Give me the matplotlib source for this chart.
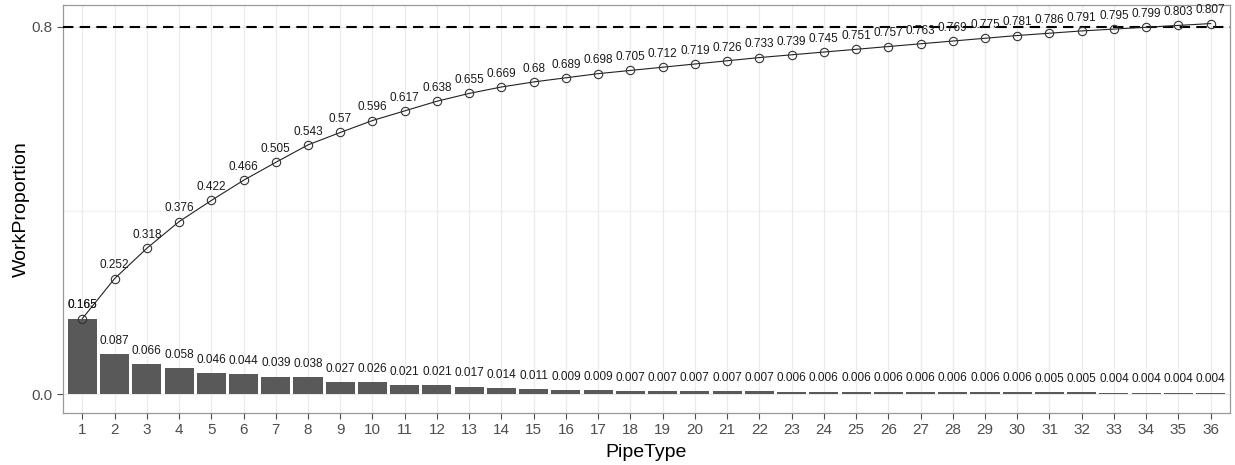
import numpy as np
import matplotlib
matplotlib.use("Agg")
import matplotlib.pyplot as plt

plt.rcParams['font.family'] = ['Liberation Sans', 'DejaVu Sans']

pipe_type = list(range(1, 37))
work_prop = [0.165, 0.087, 0.066, 0.058, 0.046, 0.044, 0.039, 0.038, 0.027, 0.026,
             0.021, 0.021, 0.017, 0.014, 0.011, 0.009, 0.009, 0.007, 0.007, 0.007,
             0.007, 0.007, 0.006, 0.006, 0.006, 0.006, 0.006, 0.006, 0.006, 0.006,
             0.005, 0.005, 0.004, 0.004, 0.004, 0.004]
cum_prop = [0.165, 0.252, 0.318, 0.376, 0.422, 0.466, 0.505, 0.543, 0.57, 0.596,
            0.617, 0.638, 0.655, 0.669, 0.68, 0.689, 0.698, 0.705, 0.712, 0.719,
            0.726, 0.733, 0.739, 0.745, 0.751, 0.757, 0.763, 0.769, 0.775, 0.781,
            0.786, 0.791, 0.795, 0.799, 0.803, 0.807]
threshold = 0.8

fig = plt.figure(figsize=(12.35, 4.65), dpi=100)
ax = fig.add_axes([63/1235, 1 - 413/465, (1230-63)/1235, (413-5)/465])

ax.set_axisbelow(True)
ax.grid(axis='x', color='#ebebeb', lw=0.9)
for yv in [0.0, 0.4, 0.8]:
    ax.axhline(yv, color='#f2f2f2' if yv == 0.4 else '#ebebeb', lw=0.9, zorder=0)

ax.bar(pipe_type, work_prop, width=0.9, color='#595959', zorder=2)
ax.axhline(threshold, color='black', lw=1.5, ls=(0, (5, 3)), zorder=3)
ax.plot(pipe_type, cum_prop, color='#222222', lw=0.8, zorder=4)
ax.plot(pipe_type, cum_prop, ls='none', marker='o', ms=6, mfc='none',
        mec='#333333', mew=0.8, zorder=5)

for x, v in zip(pipe_type, work_prop):
    ax.annotate(f'{v:g}', (x, v), xytext=(0, 9.5), textcoords='offset points',
                ha='center', va='center', fontsize=8.5, color='#1a1a1a', zorder=6)
for x, v in zip(pipe_type, cum_prop):
    ax.annotate(f'{v:g}', (x, v), xytext=(0, 9.5), textcoords='offset points',
                ha='center', va='center', fontsize=8.5, color='#1a1a1a', zorder=6)

ax.set_xlim(0.4, 36.6)
ax.set_ylim(-0.0404, 0.8474)
ax.set_xticks(pipe_type)
ax.set_yticks([0.0, 0.8])
ax.set_yticklabels(['0.0', '0.8'])
ax.tick_params(colors='#4d4d4d', labelcolor='#4d4d4d', labelsize=11, length=4, width=0.8)
for s in ax.spines.values():
    s.set_color('#999999')
    s.set_linewidth(0.9)

ax.set_xlabel('PipeType', fontsize=14, labelpad=5)
ax.set_ylabel('WorkProportion', fontsize=14, labelpad=1)

fig.savefig('out.png', dpi=100)
